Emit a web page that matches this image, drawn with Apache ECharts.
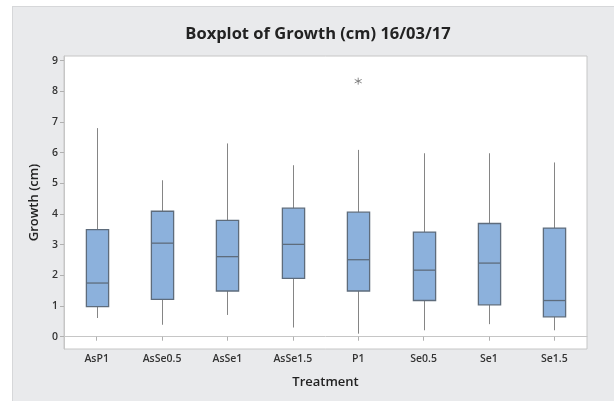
<!DOCTYPE html>
<html>
<head>
<meta charset="utf-8">
<script src="https://cdn.jsdelivr.net/npm/echarts@6/dist/echarts.min.js"></script>
<style>
html,body{margin:0;padding:0;background:#ffffff;}
#wrap{position:relative;width:614px;height:401px;}
#bg{position:absolute;left:12px;top:6px;width:602px;height:395px;background:#e9eaec;border-top:1px solid #d6d7d9;border-left:1px solid #d6d7d9;box-sizing:border-box;}
#chart{position:absolute;left:0;top:0;width:614px;height:401px;}
</style>
</head>
<body>
<div id="wrap"><div id="bg"></div><div id="chart"></div></div>
<script>
var categories = ['AsP1','AsSe0.5','AsSe1','AsSe1.5','P1','Se0.5','Se1','Se1.5'];
var whiskerLow = [0.61, 0.39, 0.71, 0.30, 0.10, 0.21, 0.41, 0.21];
var q1Values   = [0.98, 1.22, 1.49, 1.90, 1.49, 1.18, 1.04, 0.65];
var medians    = [1.75, 3.05, 2.61, 3.01, 2.51, 2.17, 2.40, 1.18];
var q3Values   = [3.49, 4.09, 3.79, 4.19, 4.06, 3.41, 3.69, 3.54];
var whiskerHigh= [6.80, 5.10, 6.30, 5.59, 6.09, 5.98, 5.98, 5.68];
var outliers   = [['P1', 8.33]];
var yTicks     = [0,1,2,3,4,5,6,7,8,9];

var boxData = categories.map(function(c, i){
  return [i, whiskerLow[i], q1Values[i], medians[i], q3Values[i], whiskerHigh[i]];
});

var chart = echarts.init(document.getElementById('chart'), null, {renderer:'canvas'});
var font = '"Open Sans", "Noto Sans", sans-serif';

function renderBox(params, api){
  var x = api.value(0);
  var pLow = api.coord([x, api.value(1)]);
  var pQ1 = api.coord([x, api.value(2)]);
  var pMed = api.coord([x, api.value(3)]);
  var pQ3 = api.coord([x, api.value(4)]);
  var pHigh = api.coord([x, api.value(5)]);
  var bw = api.size([1, 0])[0] * 0.34;
  var cx = Math.round(pMed[0]) + 0.5;
  var whiskerStyle = {stroke:'#858585', lineWidth:1};
  return {
    type:'group',
    children:[
      {type:'line', shape:{x1:cx, y1:pHigh[1], x2:cx, y2:pQ3[1]}, style:whiskerStyle},
      {type:'line', shape:{x1:cx, y1:pQ1[1], x2:cx, y2:pLow[1]}, style:whiskerStyle},
      {type:'rect', shape:{x:cx - bw/2, y:pQ3[1], width:bw, height:pQ1[1]-pQ3[1]},
        style:{fill:'#8cb1dc', stroke:'#5e6c7c', lineWidth:1.3}},
      {type:'line', shape:{x1:cx - bw/2, y1:pMed[1], x2:cx + bw/2, y2:pMed[1]},
        style:{stroke:'#5e6c7c', lineWidth:1.3}}
    ]
  };
}

var option = {
  backgroundColor:'transparent',
  animation:false,
  title:{
    text:'Boxplot of Growth (cm) 16/03/17',
    left:313, textAlign:'center', top:21,
    textStyle:{fontFamily:font, fontSize:16.5, fontWeight:'bold', color:'#222222'}
  },
  grid:{left:64, right:27, top:56, bottom:52, show:true, backgroundColor:'#ffffff', borderColor:'#c6c6c6', borderWidth:1},
  xAxis:{
    type:'category', data:categories, boundaryGap:true,
    name:'Treatment', nameLocation:'middle', nameGap:27,
    nameTextStyle:{fontFamily:font, fontSize:13, fontWeight:600, color:'#222222'},
    axisLine:{show:true, lineStyle:{color:'#c6c6c6'}},
    axisTick:{show:true, alignWithLabel:true, length:4, lineStyle:{color:'#b0b0b0'}},
    axisLabel:{fontFamily:font, fontSize:10.5, fontWeight:600, color:'#333333', margin:5},
    splitLine:{show:false}
  },
  yAxis:{
    type:'value', min:-0.4, max:9.15,
    name:'Growth (cm)', nameLocation:'middle', nameGap:19, nameRotate:90,
    nameTextStyle:{fontFamily:font, fontSize:13, fontWeight:600, color:'#222222'},
    axisLine:{show:true, lineStyle:{color:'#c6c6c6'}},
    axisTick:{show:true, length:4, customValues:yTicks, lineStyle:{color:'#b0b0b0'}},
    axisLabel:{fontFamily:font, fontSize:10.5, fontWeight:600, color:'#333333', margin:6, customValues:yTicks},
    splitLine:{show:false}
  },
  series:[
    {type:'custom', renderItem:renderBox, data:boxData, encode:{x:0, y:[1,2,3,4,5]}, z:2},
    {type:'scatter', data:outliers, symbol:'path://M0,-1L0,1M-0.866,-0.5L0.866,0.5M-0.866,0.5L0.866,-0.5',
      symbolSize:7, itemStyle:{color:'none', borderColor:'#6e6e6e', borderWidth:1}, z:3}
  ]
};
chart.setOption(option);
</script>
</body>
</html>
